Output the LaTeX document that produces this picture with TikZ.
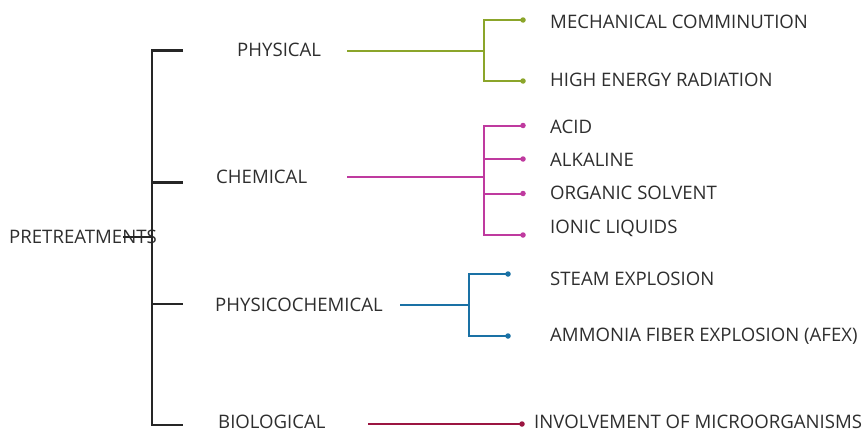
\documentclass[tikz,border=0pt]{standalone}
\usepackage{fontspec}
\setmainfont{Open Sans}
\definecolor{cgreen}{HTML}{8BA52A}
\definecolor{cmag}{HTML}{BF3A9F}
\definecolor{cblue}{HTML}{1A71A5}
\definecolor{cred}{HTML}{9B1541}
\definecolor{ctext}{HTML}{2E2E2E}
\definecolor{cblack}{HTML}{262626}
\begin{document}
\begin{tikzpicture}[x=1pt,y=-1pt,
  lbl/.style={anchor=west,inner sep=0pt,text height=13.2pt,text depth=0pt,
              font=\fontsize{18.6}{21}\selectfont,text=ctext},
  spine/.style={draw=cblack,line width=2.5pt},
  bline/.style={draw=#1,line width=2pt},
  tipdot/.style={circle,fill=#1,inner sep=0pt,minimum size=5.5pt}
]
\useasboundingbox (0,0) rectangle (865,431);

% main labels
\node[lbl] (root) at (9,237) {PRETREATMENTS};
\node[lbl] (phys) at (237,50) {PHYSICAL};
\node[lbl] (chem) at (216,177) {CHEMICAL};
\node[lbl] (pchem) at (215,305) {PHYSICOCHEMICAL};
\node[lbl] (bio) at (218,422.3) {BIOLOGICAL};

% leaf labels
\node[lbl] (l1) at (550,21.5) {MECHANICAL COMMINUTION};
\node[lbl] (l2) at (550,79.5) {HIGH ENERGY RADIATION};
\node[lbl] (l3) at (550,126.5) {ACID};
\node[lbl] (l4) at (550,160) {ALKALINE};
\node[lbl] (l5) at (550,193) {ORGANIC SOLVENT};
\node[lbl] (l6) at (550,227) {IONIC LIQUIDS};
\node[lbl] (l7) at (550,279) {STEAM EXPLOSION};
\node[lbl] (l8) at (550,335) {AMMONIA FIBER EXPLOSION (AFEX)};
\node[lbl] (l9) at (534,422.3) {INVOLVEMENT OF MICROORGANISMS};

% black spine
\coordinate (rs) at (123,237);
\coordinate (rj) at (152,237);
\coordinate (s1) at (152,50.7);
\coordinate (s2) at (152,182.7);
\coordinate (s3) at (152,304);
\coordinate (s4) at (152,425);
\coordinate (b1) at (183,50.7);
\coordinate (b2) at (183,182.7);
\coordinate (b3) at (183,304);
\coordinate (b4) at (183,425);
\draw[spine,line join=miter] (b1) -- (s1) -- (s4) -- (b4);
\draw[spine] (s2) -- (b2);
\draw[spine] (s3) -- (b3);
\draw[spine] (rs) -- (rj);

% green
\coordinate (g0) at (347,51);
\coordinate (gv) at (484,51);
\node[tipdot=cgreen] (gd1) at (523,20) {};
\node[tipdot=cgreen] (gd2) at (523,81) {};
\draw[bline=cgreen] (g0) -- (gv);
\draw[bline=cgreen,line join=miter] (gd1.center) -| (gv) |- (gd2.center);

% magenta
\coordinate (m0) at (347,177.3);
\coordinate (mv) at (484,177.3);
\node[tipdot=cmag] (md1) at (523,125.5) {};
\node[tipdot=cmag] (md2) at (523,159) {};
\node[tipdot=cmag] (md3) at (523,193.5) {};
\node[tipdot=cmag] (md4) at (523,235) {};
\draw[bline=cmag] (m0) -- (mv);
\draw[bline=cmag,line join=miter] (md1.center) -| (mv) |- (md4.center);
\draw[bline=cmag] (md2.center) -- (md2.center -| mv);
\draw[bline=cmag] (md3.center) -- (md3.center -| mv);

% blue
\coordinate (p0) at (400,305);
\coordinate (pv) at (469,305);
\node[tipdot=cblue] (pd1) at (508,274) {};
\node[tipdot=cblue] (pd2) at (508,336) {};
\draw[bline=cblue] (p0) -- (pv);
\draw[bline=cblue,line join=miter] (pd1.center) -| (pv) |- (pd2.center);

% red
\coordinate (r0) at (368,424);
\node[tipdot=cred] (rd) at (522,424) {};
\draw[bline=cred] (r0) -- (rd.center);
\end{tikzpicture}
\end{document}
